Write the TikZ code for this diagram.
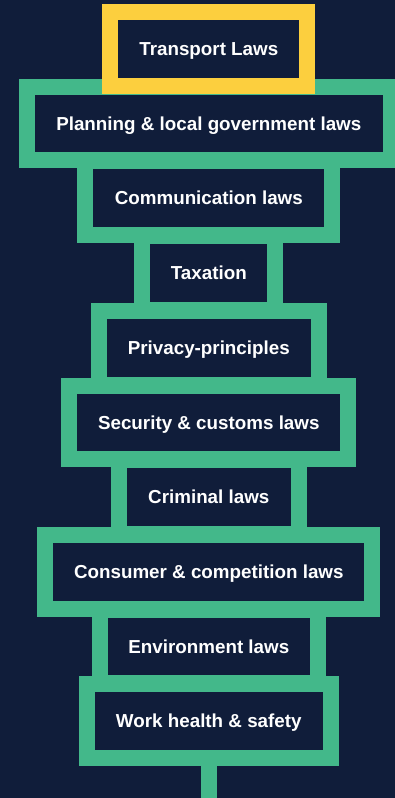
\documentclass[tikz,border=0pt]{standalone}
\usepackage{fontspec}
\setmainfont{Liberation Sans}
\usepackage{tikz}
\definecolor{bgnavy}{HTML}{101D3A}
\definecolor{lawgreen}{HTML}{43B88A}
\definecolor{lawyellow}{HTML}{FCCF3E}

\begin{document}
\begin{tikzpicture}[x=1pt, y=-1pt,
	law/.style = {draw=lawgreen, line width=16pt, outer sep=0pt, inner sep=0pt,
		minimum height=73.7pt, text height=13.4pt, text depth=0pt, text=white,
		font=\bfseries\fontsize{18.8}{22}\selectfont},
	toplaw/.style = {law, draw=lawyellow}]
	\useasboundingbox (0,0) rectangle (395,798);
	\fill[bgnavy] (0,0) rectangle (395,798);
	\node[law, minimum width=363.7pt] (planning) at (208.8, 123.55){Planning \& local government laws};
	\node[law, minimum width=247pt] (communication) at (208.8, 198.25){Communication laws};
	\node[law, minimum width=133.3pt] (taxation) at (208.8, 272.95){Taxation};
	\node[law, minimum width=220.3pt] (privacy) at (208.8, 347.65){Privacy-principles};
	\node[law, minimum width=279pt] (security) at (208.8, 422.35){Security \& customs laws};
	\node[law, minimum width=180.3pt] (criminal) at (208.8, 497.05){Criminal laws};
	\node[law, minimum width=327pt] (consumer) at (208.8, 571.75){Consumer \& competition laws};
	\node[law, minimum width=217.6pt] (environment) at (208.8, 646.45){Environment laws};
	\node[law, minimum width=244.3pt] (work) at (208.8, 721.15){Work health \& safety};
	% yellow box last so it sits over the green one
	\node[toplaw, minimum width=196.7pt] (transport) at (208.8, 48.85){Transport Laws};
	\coordinate (end) at (208.8, 798);
	\draw[lawgreen, line width=16pt] (work.south) -- (end);
\end{tikzpicture}
\end{document}
